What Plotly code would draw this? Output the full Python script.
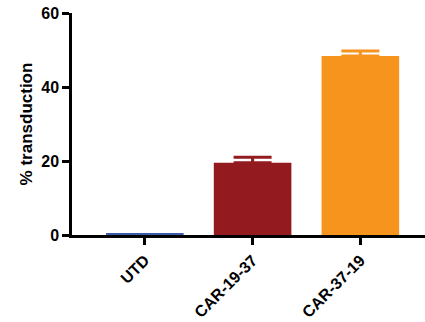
import plotly.graph_objects as go

groups = ["UTD", "CAR-19-37", "CAR-37-19"]
transduction = [0.5, 19.5, 48.4]
sem = [0.0, 1.5, 1.3]
bar_colors = ["#3b5ba8", "#931b1f", "#f7941d"]
y_ticks = [0, 20, 40, 60]

fig = go.Figure()
for g, v, e, c in zip(groups, transduction, sem, bar_colors):
    fig.add_trace(go.Bar(
        x=[g], y=[v], width=0.72,
        marker=dict(color=c, line=dict(width=0)),
        error_y=dict(type="data", symmetric=False, array=[e], arrayminus=[0],
                     color=c, thickness=3, width=19, visible=e > 0),
        showlegend=False,
    ))

font_family = "Liberation Sans, Arial, sans-serif"
fig.update_layout(
    width=425, height=322,
    margin=dict(l=72, r=0, t=13, b=87),
    plot_bgcolor="white", paper_bgcolor="white",
    font=dict(family=font_family, color="black"),
    xaxis=dict(
        range=[-0.676, 2.6], showline=True, linecolor="black", linewidth=2.5,
        ticks="outside", ticklen=7, tickwidth=2.5, tickcolor="black",
        tickangle=-45, tickfont=dict(size=16, family=font_family, weight="bold"),
        tickvals=groups, ticktext=[f"<b>{g}</b>" for g in groups],
        showgrid=False, zeroline=False,
    ),
    yaxis=dict(
        range=[0, 60], tickvals=y_ticks, ticktext=[f"<b>{t}</b>" for t in y_ticks],
        showline=True, linecolor="black",
        linewidth=2.5, ticks="outside", ticklen=7, tickwidth=2.5, tickcolor="black",
        tickfont=dict(size=16, family=font_family, weight="bold"),
        title=dict(text="<b>% transduction</b>",
                   font=dict(size=17, family=font_family, weight="bold"), standoff=5),
        showgrid=False, zeroline=False,
    ),
)

fig.write_html("out.html")
